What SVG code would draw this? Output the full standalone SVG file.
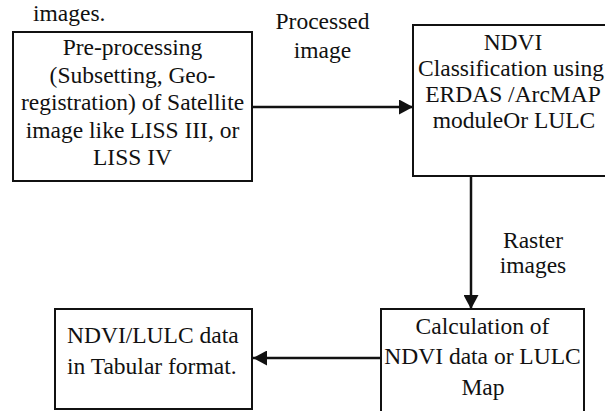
<svg xmlns="http://www.w3.org/2000/svg" width="605" height="411" viewBox="0 0 605 411" font-family="'Liberation Serif', 'DejaVu Serif', serif">
<defs>
<style>
text{font-family:'Liberation Serif','Times New Roman',Tinos,serif;font-size:23.5px;fill:#111}
.c{text-anchor:middle}
.box{fill:#fff;stroke:#111;stroke-width:2}
.ln{stroke:#111;stroke-width:2.5;fill:none}
</style>
<marker id="ah" markerWidth="14" markerHeight="15" refX="14" refY="7.5" orient="auto" markerUnits="userSpaceOnUse">
<path d="M0,0 L14,7.5 L0,15 Z" fill="#111"/>
</marker>
</defs>
<rect width="605" height="411" fill="#fff"/>
<text x="33" y="21">images.</text>
<g id="connectors">
<line class="ln" x1="252" y1="107" x2="413" y2="107" marker-end="url(#ah)"/>
<line class="ln" x1="471" y1="176" x2="471" y2="309" marker-end="url(#ah)"/>
<line class="ln" x1="381" y1="358" x2="253" y2="358" marker-end="url(#ah)"/>
<text class="c" x="322.5" y="29">Processed</text>
<text class="c" x="322.5" y="58">image</text>
<text class="c" x="533" y="248">Raster</text>
<text class="c" x="533" y="273">images</text>
</g>
<g id="preprocessing">
<rect class="box" x="13" y="32" width="239" height="149"/>
<text class="c" x="132.5" y="55">Pre-processing</text>
<text class="c" x="132.5" y="83">(Subsetting, Geo-</text>
<text class="c" x="132.5" y="110">registration) of Satellite</text>
<text class="c" x="132.5" y="138">image like LISS III, or</text>
<text class="c" x="132.5" y="165">LISS IV</text>
</g>
<g id="ndvi-classification">
<rect class="box" x="413" y="25" width="220" height="151"/>
<text class="c" x="513" y="50">NDVI</text>
<text x="418" y="76">Classification using</text>
<text class="c" x="513" y="102">ERDAS /ArcMAP</text>
<text class="c" x="514" y="128">moduleOr LULC</text>
</g>
<g id="calculation">
<rect class="box" x="381" y="309" width="203" height="120"/>
<text class="c" x="482.5" y="334">Calculation of</text>
<text class="c" x="482.5" y="364">NDVI data or LULC</text>
<text class="c" x="483" y="395">Map</text>
</g>
<g id="tabular">
<rect class="box" x="55" y="309" width="197" height="100"/>
<text x="67" y="343">NDVI/LULC data</text>
<text x="67" y="374">in Tabular format.</text>
</g>
</svg>
